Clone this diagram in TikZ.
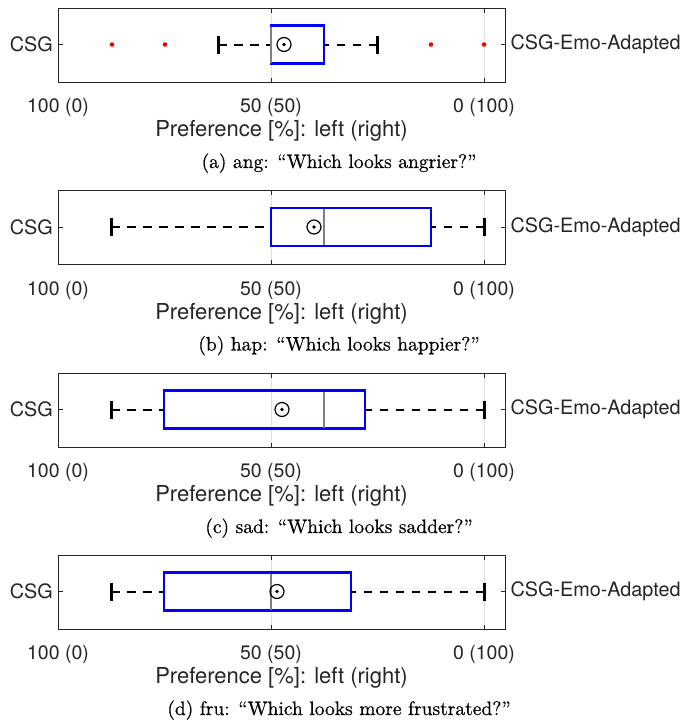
\documentclass[tikz,border=0pt]{standalone}
\usepackage{fontspec}
\newfontfamily\labfont{TeX Gyre Heros}
\newfontfamily\capfont[FakeBold=0.5]{lmroman10-regular.otf}
\definecolor{axgray}{RGB}{38,38,38}
\definecolor{gridgray}{RGB}{224,224,224}
\definecolor{medgray}{RGB}{128,128,128}
\tikzset{
  axisline/.style={draw=axgray, line width=0.9pt},
  gridline/.style={draw=gridgray, line width=0.9pt},
  tickline/.style={draw=axgray, line width=0.8pt},
  iqrbox/.style={draw=blue, line width=2.2pt},
  medline/.style={draw=medgray, line width=2pt},
  whisk/.style={draw=black, line width=2pt, dash pattern=on 8.5pt off 7.5pt},
  capline/.style={draw=black, line width=3pt},
  meanring/.style={circle, draw=black, line width=1.2pt, minimum size=14pt, inner sep=0pt},
  meandot/.style={circle, fill=black, minimum size=3.6pt, inner sep=0pt},
  outlier/.style={circle, fill=red, minimum size=4.6pt, inner sep=0pt},
  ticklab/.style={font=\labfont\fontsize{19.5}{22}\selectfont, text=axgray, anchor=base, inner sep=0pt},
  ylab/.style={font=\labfont\fontsize{19.8}{22}\selectfont, text=axgray, inner sep=0pt},
  xlab/.style={font=\labfont\fontsize{22}{24}\selectfont, text=axgray, anchor=base, inner sep=0pt},
  caplab/.style={font=\capfont\fontsize{19.5}{22}\selectfont, anchor=base, inner sep=0pt},
}
% #1 id, #2 top, #3 lower cap, #4 q1, #5 median, #6 q3, #7 upper cap, #8 mean, #9 caption
\newcommand\drawpanel[9]{%
  \pgfmathsetmacro\cy{#2+36.5}%
  \draw[gridline] (271,#2) -- (271,#2+74);
  \draw[gridline] (484,#2) -- (484,#2+74);
  \draw[axisline] (58,#2) rectangle (505,#2+74);
  \foreach \tx in {58,271,484}{
    \draw[tickline] (\tx,#2) -- (\tx,#2+4.5);
    \draw[tickline] (\tx,#2+74) -- (\tx,#2+69.5);
  }
  \draw[tickline] (58,\cy) -- (62.5,\cy);
  \draw[tickline] (505,\cy) -- (500.5,\cy);
  \coordinate (lo#1) at (#3,\cy);
  \coordinate (qa#1) at (#4,\cy);
  \coordinate (qb#1) at (#6,\cy);
  \coordinate (hi#1) at (#7,\cy);
  \draw[whisk] (lo#1) -- (qa#1);
  \draw[whisk] (hi#1) -- (qb#1);
  \draw[capline] ([yshift=9pt]lo#1) -- ([yshift=-9pt]lo#1);
  \draw[capline] ([yshift=9pt]hi#1) -- ([yshift=-9pt]hi#1);
  \draw[iqrbox] (#4,\cy-19) rectangle (#6,\cy+19);
  \draw[medline] (#5,\cy-18) -- (#5,\cy+18);
  \node[meanring] (mean#1) at (#8,\cy) {};
  \node[meandot] (meanc#1) at (mean#1) {};
  \node[ylab, anchor=east] (csg#1) at (53,\cy) {CSG};
  \node[ylab, anchor=west] (emo#1) at (510.5,\cy) {CSG-Emo-Adapted};
  \node[ticklab] (ta#1) at (58,#2+104.5) {100 (0)};
  \node[ticklab] (tb#1) at (271,#2+104.5) {50 (50)};
  \node[ticklab] (tc#1) at (484,#2+104.5) {0 (100)};
  \node[xlab] (xl#1) at (281.5,#2+128.5) {Preference [\%]: left (right)};
  \node[caplab] (cap#1) at (339,#2+160) {#9};
}
\begin{document}
\begin{tikzpicture}[x=1pt, y=-1pt]
  \useasboundingbox[fill=white] (0,0) rectangle (700,721);
  \drawpanel{A}{8}{218}{271}{271}{324}{377}{284}{(a) ang: “Which looks angrier?”}
  \node[outlier] (oa1) at (112,44.5) {};
  \node[outlier] (oa2) at (165,44.5) {};
  \node[outlier] (oa3) at (431,44.5) {};
  \node[outlier] (oa4) at (484,44.5) {};
  \drawpanel{B}{190.5}{111}{271}{324}{431}{484}{314}{(b) hap: “Which looks happier?”}
  \drawpanel{C}{373}{111}{164}{324}{365}{484}{282}{(c) sad: “Which looks sadder?”}
  \drawpanel{D}{555}{111}{164}{271}{351}{484}{277}{(d) fru: “Which looks more frustrated?”}
\end{tikzpicture}
\end{document}
